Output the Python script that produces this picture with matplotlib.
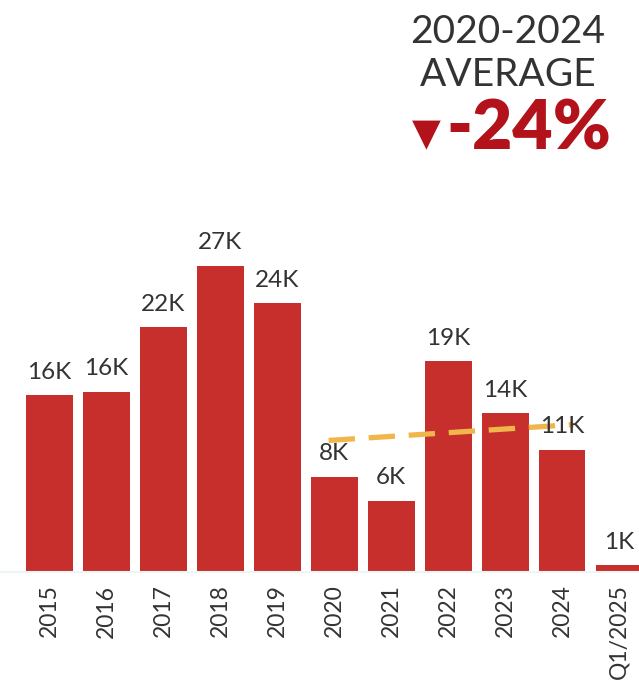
import matplotlib.pyplot as plt

# yearly totals, in thousands
years = ["2015", "2016", "2017", "2018", "2019", "2020", "2021",
         "2022", "2023", "2024", "Q1/2025"]
totals = [15.6, 15.9, 21.6, 27.0, 23.7, 8.4, 6.3, 18.6, 14.0, 10.8, 0.6]

# dashed reference line drawn over 2020-2024 (x in bar index units)
trend_x = [4.9, 9.2]
trend_y = [11.6, 13.0]

change_label = "-24%"

bar_color = "#C62F2B"
text_color = "#333333"
red_text = "#B3121A"

plt.rcParams['font.family'] = ['Lato', 'DejaVu Sans']

fig = plt.figure(figsize=(6.39, 6.81), dpi=100)
ax = fig.add_axes([0, 109 / 681, 1, 372 / 681])

x = list(range(len(years)))
bars = ax.bar(x, totals, width=0.82, color=bar_color)

for xi, v in zip(x, totals):
    ax.annotate(f"{round(v + 0.001):d}K", (xi, v), xytext=(0, 9),
                textcoords="offset points", ha="center", va="bottom",
                fontsize=17.5, color=text_color)

ax.plot(trend_x, trend_y, color="#F0B64C", lw=3.8, dashes=(5, 2.6),
        solid_capstyle="butt")

ax.set_xlim(-0.87, 10.35)
ax.set_ylim(0, 32.8)
ax.set_yticks([])
ax.set_xticks(x)
ax.set_xticklabels(years, rotation=90, fontsize=16.5, color=text_color)
ax.tick_params(axis="x", length=0, pad=9)
for s in ["top", "right", "left"]:
    ax.spines[s].set_visible(False)
ax.spines["bottom"].set_color("#eef5f5")
ax.spines["bottom"].set_linewidth(1.5)

# header block, top right
fig.text(508 / 639, 1 - 32 / 681, "2020-2024", ha="center", va="center",
         fontsize=28, color=text_color)
fig.text(508 / 639, 1 - 75 / 681, "AVERAGE", ha="center", va="center",
         fontsize=28, color=text_color)
fig.text(426 / 639, 1 - 135 / 681, "▼", ha="center", va="center",
         fontsize=27, color=red_text, family="DejaVu Sans")
fig.text(529 / 639, 1 - 130 / 681, change_label, ha="center", va="center",
         fontsize=50, fontweight="heavy", color=red_text)

fig.savefig("out.png", dpi=100)
